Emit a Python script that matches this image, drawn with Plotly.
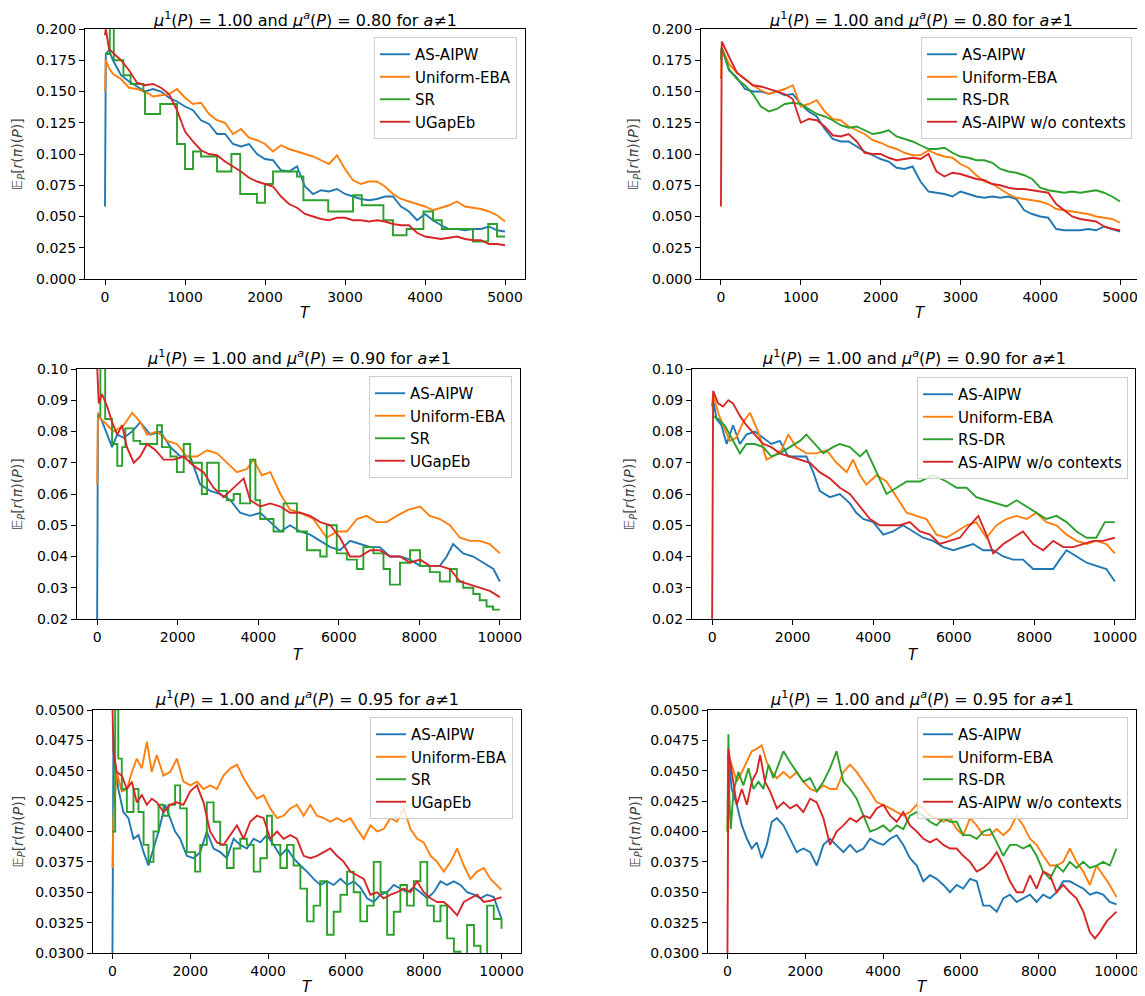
import plotly.graph_objects as go

OFF = 8                      # the HTML body's default margin shifts the figure by 8 px
W, H = 1145, 996
BLUE, ORANGE, GREEN, RED = "#1f77b4", "#ff7f0e", "#2ca02c", "#d62728"

# ---------------- data ----------------
T5K = [0, 10, 50] + list(range(100, 5001, 100))
T5K_B = [0, 10] + list(range(100, 5001, 100))

# Panel 1 : mu^a = 0.80, baselines
p1_aipw = [0.058, 0.180, 0.183,
           0.175, 0.163, 0.158, 0.154, 0.150, 0.152, 0.150, 0.145, 0.142, 0.138,
           0.135, 0.127, 0.124, 0.116, 0.116, 0.108, 0.106, 0.108, 0.100, 0.096,
           0.095, 0.087, 0.086, 0.090, 0.074, 0.068, 0.071, 0.070, 0.072, 0.068,
           0.066, 0.064, 0.063, 0.064, 0.066, 0.066, 0.058, 0.054, 0.047, 0.052,
           0.047, 0.043, 0.040, 0.040, 0.039, 0.040, 0.040, 0.042, 0.039, 0.038]
p1_eba = [0.150, 0.175, 0.169,
          0.164, 0.160, 0.153, 0.152, 0.150, 0.146, 0.147, 0.148, 0.152, 0.145,
          0.140, 0.141, 0.132, 0.127, 0.125, 0.116, 0.120, 0.113, 0.111, 0.108,
          0.102, 0.107, 0.104, 0.102, 0.100, 0.098, 0.095, 0.092, 0.099, 0.088,
          0.079, 0.076, 0.078, 0.078, 0.074, 0.068, 0.064, 0.062, 0.060, 0.058,
          0.055, 0.057, 0.059, 0.062, 0.058, 0.057, 0.056, 0.054, 0.051, 0.046]
p1_ugap = [0.195, 0.200, 0.184,
           0.181, 0.175, 0.167, 0.157, 0.155, 0.156, 0.153, 0.148, 0.135, 0.118,
           0.110, 0.103, 0.100, 0.099, 0.094, 0.090, 0.086, 0.081, 0.078, 0.076,
           0.074, 0.066, 0.060, 0.057, 0.052, 0.050, 0.048, 0.047, 0.049, 0.049,
           0.047, 0.047, 0.046, 0.047, 0.046, 0.044, 0.043, 0.043, 0.037, 0.034,
           0.033, 0.032, 0.033, 0.034, 0.032, 0.031, 0.031, 0.028, 0.028, 0.027]
p1_sr_T = [0, 60, 110, 230, 320, 480, 500, 690, 900, 1000, 1100, 1200, 1400, 1580,
           1690, 1900, 2000, 2100, 2400, 2480, 2790, 3100, 3210, 3480, 3600, 3770,
           3980, 4100, 4210, 4600, 4790, 4900, 5000]
p1_sr = [0.180, 0.205, 0.175, 0.163, 0.156, 0.150, 0.132, 0.140, 0.108, 0.088,
         0.102, 0.098, 0.086, 0.100, 0.068, 0.061, 0.076, 0.086, 0.082, 0.063,
         0.054, 0.067, 0.059, 0.047, 0.035, 0.040, 0.054, 0.047, 0.040, 0.030,
         0.044, 0.034, 0.034]

# Panel 2 : mu^a = 0.80, ablations
p2_aipw = [0.180, 0.185,
           0.167, 0.161, 0.152, 0.150, 0.150, 0.148, 0.150, 0.147, 0.148, 0.140,
           0.134, 0.130, 0.120, 0.112, 0.110, 0.110, 0.106, 0.102, 0.099, 0.096,
           0.094, 0.089, 0.088, 0.090, 0.078, 0.070, 0.069, 0.068, 0.066, 0.070,
           0.068, 0.066, 0.065, 0.066, 0.065, 0.066, 0.064, 0.055, 0.052, 0.050,
           0.049, 0.040, 0.039, 0.039, 0.039, 0.040, 0.039, 0.042, 0.040, 0.038]
p2_eba = [0.160, 0.185,
          0.172, 0.165, 0.160, 0.155, 0.151, 0.148, 0.150, 0.152, 0.155, 0.138,
          0.140, 0.143, 0.134, 0.128, 0.127, 0.122, 0.119, 0.116, 0.111, 0.109,
          0.106, 0.104, 0.101, 0.099, 0.099, 0.103, 0.100, 0.098, 0.097, 0.092,
          0.089, 0.083, 0.078, 0.076, 0.072, 0.068, 0.065, 0.064, 0.063, 0.062,
          0.060, 0.056, 0.055, 0.054, 0.053, 0.052, 0.050, 0.049, 0.048, 0.045]
p2_rsdr = [0.175, 0.185,
           0.168, 0.160, 0.155, 0.148, 0.138, 0.134, 0.136, 0.140, 0.141, 0.140,
           0.136, 0.132, 0.130, 0.127, 0.123, 0.121, 0.122, 0.119, 0.116, 0.117,
           0.119, 0.114, 0.112, 0.110, 0.107, 0.104, 0.104, 0.105, 0.101, 0.098,
           0.097, 0.095, 0.095, 0.093, 0.088, 0.086, 0.085, 0.083, 0.080, 0.073,
           0.071, 0.070, 0.069, 0.070, 0.069, 0.070, 0.071, 0.069, 0.066, 0.062]
p2_ctx = [0.058, 0.190,
          0.178, 0.165, 0.160, 0.155, 0.154, 0.152, 0.150, 0.148, 0.144, 0.125,
          0.128, 0.127, 0.122, 0.115, 0.114, 0.116, 0.110, 0.101, 0.100, 0.100,
          0.097, 0.095, 0.096, 0.097, 0.096, 0.100, 0.086, 0.082, 0.085, 0.084,
          0.082, 0.080, 0.079, 0.076, 0.075, 0.073, 0.072, 0.072, 0.071, 0.070,
          0.069, 0.060, 0.055, 0.050, 0.048, 0.047, 0.046, 0.042, 0.040, 0.039]

# Panel 3 : mu^a = 0.90, baselines
p3_aipw_T = [0, 20, 100, 250, 370, 500, 660, 870, 1070, 1320, 1570, 1820, 2070, 2310,
             2560, 2810, 3060, 3310, 3550, 3800, 4050, 4300, 4550, 4790, 5040, 5290,
             5540, 5790, 6030, 6280, 6530, 6780, 7020, 7270, 7520, 7770, 8020, 8260,
             8510, 8680, 8840, 9090, 9340, 9590, 9840, 10000]
p3_aipw = [0.020, 0.085, 0.084, 0.079, 0.075, 0.079, 0.078, 0.080, 0.083, 0.079,
           0.080, 0.075, 0.072, 0.072, 0.063, 0.061, 0.060, 0.058, 0.054, 0.053,
           0.054, 0.051, 0.048, 0.050, 0.048, 0.047, 0.045, 0.043, 0.042, 0.045,
           0.044, 0.043, 0.043, 0.040, 0.040, 0.039, 0.037, 0.037, 0.037, 0.040,
           0.044, 0.041, 0.040, 0.038, 0.036, 0.032]
p3_eba_T = [0, 20, 100, 410, 660, 870, 1070, 1240, 1490, 1740, 1980, 2230, 2480, 2730,
            2980, 3220, 3470, 3720, 3880, 4090, 4300, 4550, 4790, 5040, 5370, 5700,
            5950, 6200, 6450, 6690, 6940, 7190, 7440, 7730, 8020, 8260, 8510, 8760,
            9010, 9260, 9500, 9750, 10000]
p3_eba = [0.063, 0.086, 0.084, 0.080, 0.082, 0.086, 0.083, 0.079, 0.080, 0.077,
          0.076, 0.072, 0.072, 0.074, 0.073, 0.070, 0.067, 0.068, 0.071, 0.066,
          0.067, 0.060, 0.055, 0.054, 0.052, 0.046, 0.048, 0.048, 0.052, 0.053,
          0.051, 0.051, 0.053, 0.055, 0.056, 0.053, 0.052, 0.050, 0.046, 0.045,
          0.045, 0.044, 0.041]
p3_sr_T = [0, 80, 200, 370, 500, 620, 700, 900, 1070, 1490, 1610, 1820, 1980, 2150,
           2310, 2600, 2730, 3020, 3220, 3390, 3550, 3800, 3930, 4050, 4380, 4630,
           4960, 5210, 5540, 5700, 5950, 6200, 6450, 6610, 6860, 7110, 7270, 7520,
           7770, 8020, 8260, 8510, 8760, 8930, 9090, 9340, 9500, 9670, 9830, 10000]
p3_sr = [0.085, 0.101, 0.084, 0.076, 0.069, 0.075, 0.081, 0.077, 0.076, 0.082,
         0.075, 0.072, 0.067, 0.076, 0.070, 0.060, 0.070, 0.061, 0.058, 0.060,
         0.057, 0.071, 0.058, 0.052, 0.048, 0.057, 0.048, 0.042, 0.040, 0.050,
         0.041, 0.039, 0.036, 0.043, 0.041, 0.036, 0.031, 0.038, 0.042, 0.037,
         0.035, 0.032, 0.036, 0.032, 0.030, 0.028, 0.026, 0.024, 0.023, 0.023]
p3_ugap_T = [0, 40, 120, 250, 370, 500, 620, 740, 910, 1070, 1240, 1450, 1650, 1900,
             2150, 2400, 2640, 2890, 3140, 3390, 3640, 3800, 4050, 4300, 4550, 4790,
             5040, 5290, 5540, 5790, 6030, 6280, 6530, 6780, 7020, 7270, 7520, 7770,
             8020, 8260, 8510, 8760, 9010, 9260, 9500, 9750, 10000]
p3_ugap = [0.101, 0.089, 0.092, 0.088, 0.083, 0.079, 0.082, 0.075, 0.070, 0.072,
           0.076, 0.074, 0.071, 0.071, 0.072, 0.069, 0.067, 0.062, 0.059, 0.062,
           0.065, 0.058, 0.056, 0.057, 0.056, 0.054, 0.054, 0.053, 0.051, 0.050,
           0.046, 0.040, 0.040, 0.042, 0.042, 0.040, 0.040, 0.038, 0.039, 0.037,
           0.037, 0.036, 0.032, 0.031, 0.030, 0.029, 0.027]

# Panel 4 : mu^a = 0.90, ablations
p4_aipw_T = [0, 25, 110, 230, 360, 520, 690, 850, 1060, 1270, 1470, 1680, 1890, 2090,
             2340, 2510, 2670, 2920, 3170, 3420, 3580, 3750, 4000, 4250, 4490, 4740,
             4990, 5240, 5490, 5740, 5990, 6230, 6480, 6730, 6980, 7230, 7470, 7720,
             7970, 8220, 8470, 8630, 8800, 9050, 9300, 9540, 9790, 10000]
p4_aipw = [0.088, 0.090, 0.084, 0.082, 0.076, 0.082, 0.076, 0.079, 0.080, 0.078,
           0.076, 0.077, 0.072, 0.072, 0.072, 0.067, 0.061, 0.059, 0.060, 0.057,
           0.054, 0.052, 0.051, 0.047, 0.048, 0.050, 0.048, 0.046, 0.045, 0.043,
           0.042, 0.043, 0.044, 0.042, 0.042, 0.040, 0.039, 0.039, 0.036, 0.036,
           0.036, 0.039, 0.042, 0.040, 0.038, 0.037, 0.036, 0.032]
p4_eba_T = [0, 25, 150, 270, 440, 600, 770, 940, 1140, 1350, 1510, 1720, 1890, 2090,
            2340, 2590, 2840, 3090, 3340, 3500, 3670, 3830, 4080, 4330, 4580, 4830,
            5070, 5320, 5570, 5820, 6070, 6320, 6560, 6810, 7060, 7310, 7560, 7810,
            8050, 8300, 8550, 8800, 9050, 9300, 9540, 9790, 10000]
p4_eba = [0.088, 0.092, 0.086, 0.082, 0.077, 0.078, 0.083, 0.086, 0.080, 0.071,
          0.072, 0.074, 0.079, 0.075, 0.073, 0.073, 0.074, 0.070, 0.067, 0.071,
          0.066, 0.063, 0.066, 0.064, 0.059, 0.054, 0.053, 0.052, 0.047, 0.046,
          0.048, 0.050, 0.051, 0.046, 0.050, 0.052, 0.053, 0.052, 0.054, 0.051,
          0.050, 0.047, 0.045, 0.044, 0.045, 0.044, 0.041]
p4_rsdr_T = [0, 25, 150, 310, 480, 690, 850, 1060, 1270, 1470, 1680, 1930, 2180, 2340,
             2550, 2760, 3000, 3170, 3420, 3670, 3830, 4080, 4330, 4580, 4830, 5160,
             5490, 5820, 6070, 6320, 6560, 6810, 7060, 7310, 7560, 7810, 8050, 8300,
             8550, 8800, 9050, 9300, 9540, 9750, 10000]
p4_rsdr = [0.085, 0.085, 0.084, 0.082, 0.078, 0.073, 0.076, 0.076, 0.075, 0.072,
           0.073, 0.075, 0.077, 0.079, 0.076, 0.073, 0.075, 0.076, 0.075, 0.072,
           0.074, 0.067, 0.060, 0.062, 0.064, 0.064, 0.066, 0.064, 0.062, 0.062,
           0.059, 0.058, 0.057, 0.056, 0.058, 0.056, 0.054, 0.052, 0.053, 0.051,
           0.048, 0.046, 0.046, 0.051, 0.051]
p4_ctx_T = [0, 25, 150, 270, 400, 520, 690, 850, 1060, 1270, 1470, 1680, 1930, 2180,
            2430, 2670, 2920, 3170, 3420, 3670, 3920, 4160, 4410, 4660, 4910, 5160,
            5410, 5650, 5900, 6150, 6400, 6610, 6810, 6980, 7230, 7470, 7720, 7970,
            8220, 8470, 8720, 8970, 9210, 9460, 9710, 10000]
p4_ctx = [0.020, 0.093, 0.089, 0.088, 0.090, 0.089, 0.085, 0.082, 0.079, 0.076,
          0.075, 0.073, 0.072, 0.071, 0.070, 0.067, 0.065, 0.062, 0.060, 0.056,
          0.052, 0.050, 0.050, 0.050, 0.051, 0.048, 0.047, 0.044, 0.045, 0.046,
          0.050, 0.053, 0.047, 0.041, 0.044, 0.046, 0.048, 0.044, 0.042, 0.045,
          0.043, 0.043, 0.044, 0.045, 0.045, 0.046]

# Panel 5 : mu^a = 0.95, baselines
p5_aipw_T = [0, 25, 70, 150, 280, 410, 540, 670, 800, 925, 1055, 1185, 1355, 1485,
             1610, 1740, 1910, 2085, 2255, 2425, 2600, 2770, 2940, 3115, 3285, 3455,
             3630, 3800, 3970, 4140, 4315, 4485, 4655, 4830, 5000, 5170, 5340, 5515,
             5685, 5860, 6030, 6200, 6370, 6545, 6715, 6890, 7060, 7230, 7400, 7570,
             7745, 7915, 8090, 8260, 8430, 8600, 8775, 8945, 9115, 9290, 9460, 9630,
             9800, 10000]
p5_aipw = [0.0300, 0.0479, 0.0455, 0.0435, 0.0416, 0.0411, 0.0394, 0.0397, 0.0383, 0.0372,
           0.0386, 0.0400, 0.0422, 0.0411, 0.0400, 0.0394, 0.0380, 0.0378, 0.0383, 0.0400,
           0.0386, 0.0383, 0.0378, 0.0394, 0.0389, 0.0386, 0.0394, 0.0391, 0.0397, 0.0389,
           0.0380, 0.0386, 0.0378, 0.0372, 0.0367, 0.0361, 0.0356, 0.0359, 0.0356, 0.0361,
           0.0356, 0.0359, 0.0354, 0.0345, 0.0342, 0.0348, 0.0350, 0.0356, 0.0353, 0.0350,
           0.0354, 0.0350, 0.0345, 0.0350, 0.0359, 0.0356, 0.0359, 0.0356, 0.0350, 0.0348,
           0.0345, 0.0348, 0.0346, 0.0328]
p5_T = [0, 25, 110, 240, 370, 500, 625, 755, 885, 1010, 1140, 1310, 1485, 1655, 1825,
        2000, 2170, 2340, 2510, 2685, 2855, 3030, 3200, 3370, 3540, 3715, 3885, 4055,
        4230, 4400, 4570, 4740, 4915, 5085, 5255, 5430, 5600, 5770, 5945, 6115, 6285,
        6460, 6630, 6800, 6970, 7145, 7315, 7490, 7660, 7830, 8000, 8175, 8345, 8515,
        8690, 8860, 9030, 9200, 9370, 9545, 9715, 10000]
p5_eba = [0.0370, 0.0413, 0.0449, 0.0433, 0.0435, 0.0449, 0.0460, 0.0452, 0.0474, 0.0449,
          0.0463, 0.0446, 0.0449, 0.0460, 0.0441, 0.0438, 0.0441, 0.0435, 0.0438, 0.0435,
          0.0446, 0.0452, 0.0455, 0.0444, 0.0435, 0.0427, 0.0430, 0.0419, 0.0411, 0.0413,
          0.0419, 0.0422, 0.0413, 0.0422, 0.0413, 0.0411, 0.0408, 0.0411, 0.0408, 0.0411,
          0.0402, 0.0394, 0.0405, 0.0400, 0.0402, 0.0411, 0.0408, 0.0419, 0.0402, 0.0394,
          0.0391, 0.0380, 0.0375, 0.0367, 0.0375, 0.0386, 0.0372, 0.0361, 0.0367, 0.0370,
          0.0361, 0.0352]
p5_ugap = [0.0505, 0.0466, 0.0449, 0.0446, 0.0435, 0.0441, 0.0424, 0.0430, 0.0422, 0.0427,
           0.0424, 0.0416, 0.0422, 0.0424, 0.0422, 0.0433, 0.0438, 0.0424, 0.0400, 0.0391,
           0.0389, 0.0397, 0.0405, 0.0394, 0.0408, 0.0413, 0.0411, 0.0394, 0.0400, 0.0394,
           0.0397, 0.0394, 0.0380, 0.0378, 0.0380, 0.0383, 0.0386, 0.0380, 0.0375, 0.0367,
           0.0364, 0.0361, 0.0348, 0.0350, 0.0345, 0.0348, 0.0350, 0.0353, 0.0350, 0.0359,
           0.0350, 0.0345, 0.0342, 0.0342, 0.0337, 0.0331, 0.0342, 0.0345, 0.0348, 0.0342,
           0.0343, 0.0346]
p5_sr_T = [0, 70, 150, 240, 370, 540, 670, 800, 925, 1055, 1185, 1310, 1440, 1610, 1740,
           1910, 2125, 2255, 2425, 2600, 2770, 2940, 3115, 3285, 3455, 3630, 3800, 3970,
           4100, 4315, 4485, 4655, 4830, 5000, 5170, 5340, 5515, 5685, 5860, 6030, 6200,
           6370, 6545, 6715, 6890, 7060, 7230, 7400, 7570, 7745, 7915, 8090, 8260, 8430,
           8600, 8775, 8945, 9115, 9290, 9460, 9630, 9800, 10000]
p5_sr = [0.0400, 0.0505, 0.0460, 0.0435, 0.0416, 0.0435, 0.0416, 0.0389, 0.0375, 0.0400,
         0.0422, 0.0413, 0.0422, 0.0438, 0.0419, 0.0383, 0.0367, 0.0389, 0.0424, 0.0408,
         0.0389, 0.0370, 0.0386, 0.0394, 0.0389, 0.0367, 0.0378, 0.0413, 0.0389, 0.0370,
         0.0389, 0.0372, 0.0353, 0.0326, 0.0339, 0.0359, 0.0315, 0.0334, 0.0348, 0.0367,
         0.0350, 0.0326, 0.0339, 0.0375, 0.0350, 0.0315, 0.0334, 0.0356, 0.0339, 0.0359,
         0.0375, 0.0339, 0.0326, 0.0339, 0.0312, 0.0301, 0.0295, 0.0323, 0.0306, 0.0295,
         0.0339, 0.0328, 0.0320]

# Panel 6 : mu^a = 0.95, ablations
p6_T = [0, 25, 110, 240, 370, 500, 625, 755, 880, 1010, 1140, 1270, 1440, 1610, 1780,
        1950, 2125, 2295, 2465, 2635, 2805, 2980, 3150, 3320, 3495, 3665, 3835, 4005,
        4180, 4350, 4520, 4690, 4865, 5035, 5205, 5375, 5550, 5720, 5890, 6060, 6235,
        6405, 6575, 6745, 6920, 7090, 7260, 7430, 7600, 7775, 7945, 8115, 8290, 8460,
        8630, 8800, 8970, 9145, 9315, 9485, 9655, 9825, 10000]
p6_aipw = [0.0460, 0.0463, 0.0435, 0.0422, 0.0405, 0.0394, 0.0386, 0.0391, 0.0378, 0.0389,
           0.0408, 0.0411, 0.0405, 0.0394, 0.0383, 0.0386, 0.0383, 0.0372, 0.0389, 0.0394,
           0.0389, 0.0383, 0.0389, 0.0383, 0.0386, 0.0394, 0.0391, 0.0389, 0.0394, 0.0397,
           0.0389, 0.0378, 0.0372, 0.0359, 0.0364, 0.0361, 0.0356, 0.0350, 0.0356, 0.0353,
           0.0361, 0.0359, 0.0339, 0.0339, 0.0334, 0.0345, 0.0348, 0.0342, 0.0345, 0.0348,
           0.0342, 0.0348, 0.0345, 0.0350, 0.0359, 0.0359, 0.0356, 0.0353, 0.0348, 0.0350,
           0.0348, 0.0342, 0.0340]
p6_eba = [0.0400, 0.0463, 0.0455, 0.0441, 0.0449, 0.0457, 0.0466, 0.0468, 0.0471, 0.0457,
          0.0449, 0.0444, 0.0449, 0.0444, 0.0449, 0.0441, 0.0435, 0.0433, 0.0438, 0.0435,
          0.0435, 0.0449, 0.0455, 0.0449, 0.0441, 0.0433, 0.0424, 0.0422, 0.0419, 0.0416,
          0.0413, 0.0416, 0.0422, 0.0419, 0.0413, 0.0411, 0.0408, 0.0411, 0.0402, 0.0397,
          0.0411, 0.0405, 0.0397, 0.0397, 0.0402, 0.0397, 0.0402, 0.0413, 0.0405, 0.0394,
          0.0389, 0.0380, 0.0372, 0.0372, 0.0375, 0.0386, 0.0375, 0.0367, 0.0356, 0.0372,
          0.0364, 0.0356, 0.0346]
p6_rsdr_T = [0, 25, 50, 85, 155, 280, 410, 540, 670, 795, 925, 1055, 1180, 1310, 1440,
             1610, 1780, 1950, 2125, 2295, 2465, 2635, 2805, 2980, 3150, 3320, 3495,
             3665, 3835, 4005, 4180, 4350, 4520, 4690, 4865, 5035, 5205, 5375, 5550,
             5720, 5890, 6060, 6235, 6405, 6575, 6745, 6920, 7090, 7260, 7430, 7600,
             7775, 7945, 8115, 8290, 8460, 8630, 8800, 8970, 9145, 9315, 9485, 9655,
             9825, 10000]
p6_rsdr = [0.0400, 0.0480, 0.0427, 0.0402, 0.0433, 0.0449, 0.0438, 0.0452, 0.0435, 0.0441,
           0.0435, 0.0455, 0.0444, 0.0455, 0.0466, 0.0457, 0.0449, 0.0441, 0.0444, 0.0433,
           0.0441, 0.0452, 0.0466, 0.0441, 0.0435, 0.0427, 0.0413, 0.0400, 0.0402, 0.0405,
           0.0400, 0.0405, 0.0402, 0.0413, 0.0416, 0.0413, 0.0408, 0.0405, 0.0411, 0.0408,
           0.0408, 0.0397, 0.0397, 0.0394, 0.0400, 0.0402, 0.0391, 0.0380, 0.0389, 0.0389,
           0.0386, 0.0389, 0.0380, 0.0367, 0.0361, 0.0372, 0.0367, 0.0375, 0.0370, 0.0375,
           0.0370, 0.0372, 0.0375, 0.0372, 0.0386]
p6_ctx_T = [0, 25, 110, 240, 370, 500, 625, 755, 840, 965, 1095, 1270, 1440, 1610, 1780,
            1950, 2125, 2295, 2465, 2635, 2805, 2980, 3150, 3320, 3495, 3665, 3835, 4005,
            4180, 4350, 4520, 4690, 4865, 5035, 5205, 5375, 5550, 5720, 5890, 6060, 6235,
            6405, 6575, 6745, 6920, 7090, 7260, 7430, 7600, 7775, 7945, 8115, 8290, 8460,
            8630, 8800, 8970, 9145, 9315, 9445, 9570, 9745, 10000]
p6_ctx = [0.0300, 0.0468, 0.0449, 0.0422, 0.0435, 0.0422, 0.0441, 0.0449, 0.0463, 0.0441,
          0.0433, 0.0419, 0.0424, 0.0419, 0.0422, 0.0416, 0.0427, 0.0424, 0.0411, 0.0389,
          0.0400, 0.0405, 0.0411, 0.0408, 0.0413, 0.0411, 0.0419, 0.0422, 0.0413, 0.0408,
          0.0416, 0.0405, 0.0400, 0.0394, 0.0391, 0.0394, 0.0389, 0.0386, 0.0386, 0.0380,
          0.0375, 0.0367, 0.0370, 0.0375, 0.0383, 0.0372, 0.0359, 0.0350, 0.0350, 0.0364,
          0.0353, 0.0367, 0.0364, 0.0350, 0.0356, 0.0350, 0.0345, 0.0334, 0.0317, 0.0312,
          0.0317, 0.0326, 0.0334]

MU_A = ["0.80", "0.80", "0.90", "0.90", "0.95", "0.95"]
Y_RANGES = [(0.0, 0.2), (0.0, 0.2), (0.02, 0.10), (0.02, 0.10), (0.03, 0.05), (0.03, 0.05)]
Y_DTICK = [0.025, 0.025, 0.01, 0.01, 0.0025, 0.0025]
Y_FMT = [".3f", ".3f", ".2f", ".2f", ".4f", ".4f"]
X_MAX = [5000, 5000, 10000, 10000, 10000, 10000]
X_DTICK = [1000, 1000, 2000, 2000, 2000, 2000]

left_names = ["AS-AIPW", "Uniform-EBA", "SR", "UGapEb"]
right_names = ["AS-AIPW", "Uniform-EBA", "RS-DR", "AS-AIPW w/o contexts"]
COLORS = [BLUE, ORANGE, GREEN, RED]

panels = [
    [(T5K, p1_aipw, "linear"), (T5K, p1_eba, "linear"), (p1_sr_T, p1_sr, "hv"), (T5K, p1_ugap, "linear")],
    [(T5K_B, p2_aipw, "linear"), (T5K_B, p2_eba, "linear"), (T5K_B, p2_rsdr, "linear"), (T5K_B, p2_ctx, "linear")],
    [(p3_aipw_T, p3_aipw, "linear"), (p3_eba_T, p3_eba, "linear"), (p3_sr_T, p3_sr, "hv"), (p3_ugap_T, p3_ugap, "linear")],
    [(p4_aipw_T, p4_aipw, "linear"), (p4_eba_T, p4_eba, "linear"), (p4_rsdr_T, p4_rsdr, "linear"), (p4_ctx_T, p4_ctx, "linear")],
    [(p5_aipw_T, p5_aipw, "linear"), (p5_T, p5_eba, "linear"), (p5_sr_T, p5_sr, "hv"), (p5_T, p5_ugap, "linear")],
    [(p6_T, p6_aipw, "linear"), (p6_T, p6_eba, "linear"), (p6_rsdr_T, p6_rsdr, "linear"), (p6_ctx_T, p6_ctx, "linear")],
]

# ---------------- layout geometry (screen pixels) ----------------
AX_BOX = [(85, 525, 29, 279), (701, 1140, 29, 279),
          (77, 520, 369, 619), (692, 1135, 369, 619),
          (93, 521, 710, 953), (708, 1136, 710, 953)]
LEG_POS = [(517, 37), (1132, 37), (512, 376), (1128, 377), (513, 717), (1128, 717)]
TITLE_Y = [19, 19, 357, 357, 698, 698]
YLAB_X = [18, 634, 18, 630, 18, 635]
XLAB_Y = [313, 313, 655, 655, 987, 987]

FONT = "DejaVu Sans"


def px(x):
    return min(1.0, max(0.0, (x - OFF) / W))


def py(y):
    return min(1.0, max(0.0, 1 - (y - OFF) / H))


fig = go.Figure()
annotations = []
layout = dict(template="none", width=W, height=H, margin=dict(l=0, r=0, t=0, b=0, pad=0),
              autosize=False, paper_bgcolor="white", plot_bgcolor="white",
              font=dict(family=FONT, size=14, color="black"))

for i in range(6):
    k = "" if i == 0 else str(i + 1)
    names = left_names if i % 2 == 0 else right_names
    x0, x1, y0, y1 = AX_BOX[i]
    legname = "legend" + k
    for j, (tx, vals, shape) in enumerate(panels[i]):
        if len(tx) != len(vals):
            raise ValueError(f"panel {i+1} series {j}: {len(tx)} vs {len(vals)}")
        fig.add_trace(go.Scatter(x=tx, y=vals, mode="lines", name=names[j],
                                 line=dict(color=COLORS[j], width=1.9, shape=shape),
                                 xaxis="x" + k, yaxis="y" + k, legend=legname))
    xm = X_MAX[i]
    pad = xm * 0.05
    layout["xaxis" + k] = dict(domain=[px(x0), px(x1)], anchor="y" + k, automargin=False,
                               range=[-pad, xm + pad], dtick=X_DTICK[i], tick0=0,
                               tickformat="d",
                               showgrid=False, zeroline=False, showline=True, mirror=True,
                               linecolor="black", linewidth=1, ticks="outside", ticklen=5,
                               tickwidth=1, tickcolor="black",
                               tickfont=dict(family=FONT, size=14, color="black"))
    lo, hi = Y_RANGES[i]
    layout["yaxis" + k] = dict(domain=[py(y1), py(y0)], anchor="x" + k, automargin=False,
                               range=[lo, hi], dtick=Y_DTICK[i], tick0=lo,
                               tickformat=Y_FMT[i],
                               showgrid=False, zeroline=False, showline=True, mirror=True,
                               linecolor="black", linewidth=1, ticks="outside", ticklen=5,
                               tickwidth=1, tickcolor="black",
                               tickfont=dict(family=FONT, size=14, color="black"))
    lx, ly = LEG_POS[i]
    layout[legname] = dict(x=px(lx), y=py(ly), xanchor="right", yanchor="top",
                           bgcolor="rgba(255,255,255,0.8)", bordercolor="#cccccc",
                           borderwidth=1, font=dict(family=FONT, size=15, color="black"),
                           itemwidth=30)
    cx = (x0 + x1) / 2
    annotations.append(dict(
        text=f"<i>μ</i><sup>1</sup>(<i>P</i>) = 1.00 and <i>μ</i><sup><i>a</i></sup>(<i>P</i>) = {MU_A[i]} for <i>a</i>≠1",
        x=px(cx), y=py(TITLE_Y[i]), xref="paper", yref="paper", showarrow=False,
        xanchor="center", yanchor="middle", font=dict(family=FONT, size=16, color="black")))
    annotations.append(dict(
        text="𝔼<sub><i>P</i></sub>[<i>r</i>(<i>π</i>)(<i>P</i>)]",
        x=px(YLAB_X[i]), y=py((y0 + y1) / 2), xref="paper", yref="paper", showarrow=False,
        textangle=-90, xanchor="center", yanchor="middle",
        font=dict(family=FONT, size=14, color="#444444")))
    annotations.append(dict(
        text="<i>T</i>", x=px(cx), y=py(XLAB_Y[i]), xref="paper", yref="paper",
        showarrow=False, xanchor="center", yanchor="middle",
        font=dict(family=FONT, size=15, color="black")))

layout["annotations"] = annotations
fig.update_layout(**layout)
fig.write_html("out.html")
